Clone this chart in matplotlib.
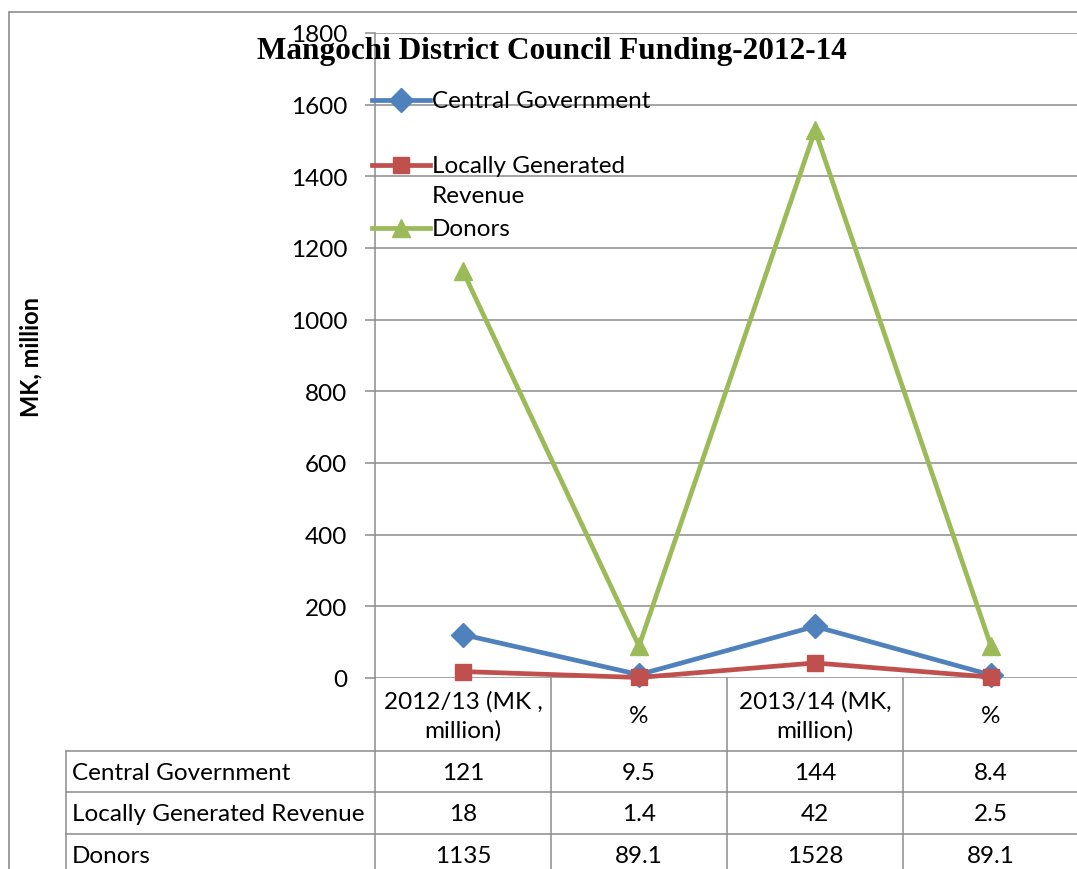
import matplotlib
matplotlib.use("Agg")
import matplotlib.pyplot as plt
from matplotlib.lines import Line2D
from matplotlib.patches import Rectangle

# data
categories = ["2012/13 (MK ,\nmillion)", "%", "2013/14 (MK,\nmillion)", "%"]
series_names = ["Central Government", "Locally Generated Revenue", "Donors"]
legend_names = ["Central Government", "Locally Generated\nRevenue", "Donors"]
central = [121, 9.5, 144, 8.4]
local = [18, 1.4, 42, 2.5]
donors = [1135, 89.1, 1528, 89.1]
yticks = [0, 200, 400, 600, 800, 1000, 1200, 1400, 1600, 1800]

W, H = 1077, 870
colors = ["#4F81BD", "#C0504D", "#9BBB59"]
markers = ["D", "s", "^"]
msizes = [12, 11.5, 12.5]
grid_c = "#8c8c8c"
font = "Lato"
fs = 17.5

def fx(x):
    return x / W

def fy(y):
    return 1 - y / H

fig = plt.figure(figsize=(W / 100, H / 100), dpi=100)

# axes placement (pixels)
left, right, top, bottom = 375, 1079, 34, 679
ax = fig.add_axes([fx(left), fy(bottom), fx(right) - fx(left), fy(top) - fy(bottom)])
ax.set_xlim(-0.5, len(categories) - 0.5)
ax.set_ylim(0, 1800)

xs = list(range(len(categories)))
for vals, c, m, ms in zip([central, local, donors], colors, markers, msizes):
    ax.plot(xs, vals, color=c, lw=3.4, marker=m, ms=ms, mec=c, mfc=c, clip_on=False, zorder=3)

ax.set_yticks(yticks)
ax.set_yticklabels([str(t) for t in yticks], fontsize=fs, fontfamily=font)
ax.set_xticks([])
ax.tick_params(axis="y", length=7, width=1.1, color=grid_c, pad=13)
ax.grid(axis="y", color=grid_c, lw=1.1)
ax.set_axisbelow(True)
for s in ["top", "right", "bottom"]:
    ax.spines[s].set_visible(False)
ax.spines["left"].set_color(grid_c)
ax.spines["left"].set_linewidth(1.1)

# title and y label
fig.text(fx(552), fy(52), "Mangochi District Council Funding-2012-14", ha="center", va="center",
         fontsize=22.5, fontweight="bold", fontfamily="Liberation Serif")
fig.text(fx(31), fy(357), "MK, million", rotation=90, ha="center", va="center",
         fontsize=17, fontweight="bold", fontfamily=font)

# legend drawn by hand (Excel-style spacing)
leg_rows = [101, 166, 229]
for name, c, m, ms, yy in zip(legend_names, colors, markers, msizes, leg_rows):
    fig.add_artist(Line2D([fx(372), fx(430)], [fy(yy), fy(yy)], color=c, lw=3.4))
    fig.add_artist(Line2D([fx(401)], [fy(yy)], color=c, marker=m, ms=ms, mec=c, mfc=c, lw=0))
    if "\n" in name:
        fig.text(fx(432), fy(yy - 10), name, ha="left", va="top",
                 fontsize=fs, fontfamily=font, linespacing=1.55)
    else:
        fig.text(fx(432), fy(yy), name, ha="left", va="center", fontsize=fs, fontfamily=font)

# data table under the axes
def col_x(v):
    return ax.transData.transform((v, 0))[0]

fig.canvas.draw()
bounds_px = [col_x(i - 0.5) for i in range(len(categories) + 1)]
row_lines = [bottom, 752, 793, 835, 877]
label_left = 66

def line(x0, y0, x1, y1):
    fig.add_artist(Line2D([fx(x0), fx(x1)], [fy(y0), fy(y1)], color=grid_c, lw=1.1))

for b in bounds_px:
    line(b, bottom, b, H + 5)
line(label_left, row_lines[1], label_left, H + 5)
for r in row_lines[1:]:
    line(label_left, r, W + 5, r)

for i, cat in enumerate(categories):
    cx = (bounds_px[i] + bounds_px[i + 1]) / 2
    fig.text(fx(cx), fy((row_lines[0] + row_lines[1]) / 2 + 1), cat, ha="center", va="center",
             fontsize=fs, fontfamily=font, linespacing=1.4)

for j, (name, vals) in enumerate(zip(series_names, [central, local, donors])):
    cy = (row_lines[j + 1] + row_lines[j + 2]) / 2 + 1
    fig.text(fx(label_left + 6), fy(cy), name, ha="left", va="center", fontsize=fs, fontfamily=font)
    for i, v in enumerate(vals):
        cx = (bounds_px[i] + bounds_px[i + 1]) / 2
        fig.text(fx(cx), fy(cy), f"{v:g}", ha="center", va="center", fontsize=fs, fontfamily=font)

# outer chart border
fig.add_artist(Rectangle((fx(9), fy(H + 10)), fx(W + 10) - fx(9), fy(13) - fy(H + 10),
                         fill=False, edgecolor="#8c8c8c", lw=1.2, transform=fig.transFigure))

fig.savefig("out.png", dpi=100)
